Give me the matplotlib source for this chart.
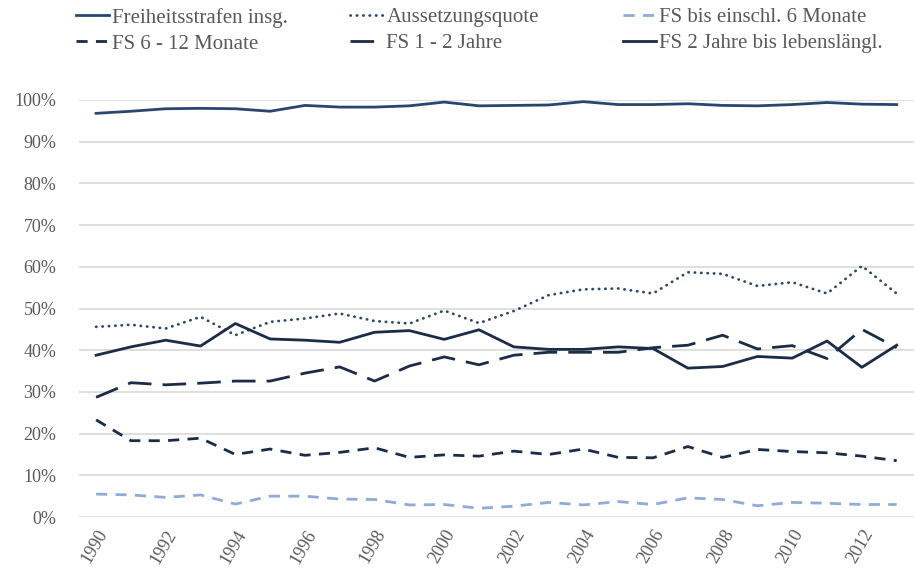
import matplotlib
matplotlib.use('Agg')
import matplotlib.pyplot as plt
from matplotlib.ticker import PercentFormatter

plt.rcParams['font.family'] = ['Liberation Serif', 'DejaVu Serif']

years = list(range(1990, 2014))
tick_years = list(range(1990, 2013, 2))

# values in percent
fs_insg = [96.8, 97.3, 97.9, 98.0, 97.9, 97.3, 98.7, 98.3, 98.3, 98.6, 99.5, 98.6,
           98.7, 98.8, 99.6, 98.9, 98.9, 99.1, 98.7, 98.6, 98.9, 99.4, 99.0, 98.9]
aussetzung = [45.6, 46.1, 45.2, 48.0, 43.6, 46.8, 47.6, 48.8, 47.0, 46.4, 49.5, 46.5,
              49.4, 53.2, 54.6, 54.8, 53.6, 58.7, 58.3, 55.4, 56.3, 53.6, 60.2, 53.6]
fs_bis_6m = [5.5, 5.3, 4.7, 5.3, 3.1, 5.0, 5.0, 4.3, 4.2, 2.9, 3.0, 2.1,
             2.6, 3.5, 2.9, 3.7, 3.0, 4.6, 4.2, 2.7, 3.5, 3.3, 3.0, 3.0]
fs_6_12m = [23.3, 18.3, 18.3, 18.9, 15.0, 16.3, 14.8, 15.5, 16.6, 14.3, 14.9, 14.6,
            15.8, 15.0, 16.3, 14.3, 14.2, 16.9, 14.3, 16.2, 15.7, 15.4, 14.6, 13.5]
fs_1_2j = [28.7, 32.2, 31.7, 32.1, 32.6, 32.6, 34.5, 36.0, 32.6, 36.2, 38.4, 36.5,
           38.8, 39.5, 39.5, 39.5, 40.6, 41.2, 43.6, 40.3, 41.1, 38.0, 45.0, 40.6]
fs_2j_ll = [38.8, 40.8, 42.4, 41.0, 46.4, 42.7, 42.4, 41.9, 44.3, 44.7, 42.6, 44.9,
            40.8, 40.2, 40.2, 40.8, 40.4, 35.7, 36.1, 38.5, 38.1, 42.2, 35.9, 41.2]

labels = ["Freiheitsstrafen insg.", "Aussetzungsquote", "FS bis einschl. 6 Monate",
          "FS 6 - 12 Monate", "FS 1 - 2 Jahre", "FS 2 Jahre bis lebenslängl."]

navy = "#1b2c47"
blue = "#2a4670"
light = "#8fabd9"
grey = "#595959"

fig = plt.figure(figsize=(9.15, 5.78), dpi=100)
ax = fig.add_axes([0.086, 0.1055, 0.913, 0.7215])

x = list(range(len(years)))
lw = 2.0
l1, = ax.plot(x, fs_insg, color=blue, lw=lw, label=labels[0])
l2, = ax.plot(x, aussetzung, color=blue, lw=lw, linestyle=(0, (0.1, 2.2)),
              dash_capstyle='round', label=labels[1])
l3, = ax.plot(x, fs_bis_6m, color=light, lw=lw, linestyle=(0, (4, 3)), label=labels[2])
l4, = ax.plot(x, fs_6_12m, color=navy, lw=lw, linestyle=(0, (4, 3)), label=labels[3])
l5, = ax.plot(x, fs_1_2j, color=navy, lw=lw, linestyle=(0, (8.5, 4)), label=labels[4])
l6, = ax.plot(x, fs_2j_ll, color=navy, lw=lw, label=labels[5])

ax.set_xlim(-0.5, len(years) - 0.5)
ax.set_ylim(0, 100)
ax.set_yticks(range(0, 101, 10))
ax.yaxis.set_major_formatter(PercentFormatter(decimals=0))
ax.set_xticks([years.index(y) for y in tick_years])
ax.set_xticklabels([str(y) for y in tick_years], rotation=60, ha='right', va='top',
                   rotation_mode='anchor')
ax.tick_params(axis='both', length=0, labelsize=13, labelcolor=grey)
ax.tick_params(axis='x', pad=7)
ax.tick_params(axis='y', pad=16)
ax.grid(axis='y', color='#d9d9d9', lw=1.2)
ax.set_axisbelow(True)
for s in ax.spines.values():
    s.set_visible(False)

# legend: three columns of two entries, placed like the original
cols = [(l1, l4), (l2, l5), (l3, l6)]
col_x = [0.078, 0.378, 0.676]
for hs, cx in zip(cols, col_x):
    leg = fig.legend(hs, [h.get_label() for h in hs], loc='upper left',
                     bbox_to_anchor=(cx, 0.994), frameon=False, fontsize=15,
                     handlelength=1.6, handletextpad=0.15, labelspacing=0.32,
                     borderaxespad=0, borderpad=0.2)
    for t in leg.get_texts():
        t.set_color(grey)

fig.savefig("out.png", dpi=100)
